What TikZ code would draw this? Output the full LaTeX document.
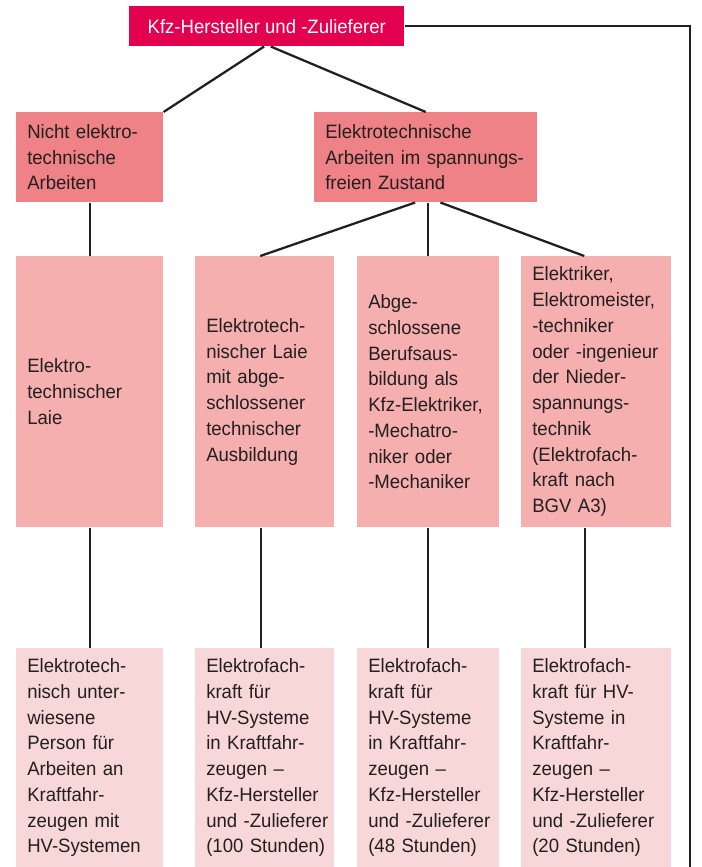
\documentclass[tikz,border=0pt]{standalone}
\usepackage{fontspec}
\setmainfont{Liberation Sans}[FakeStretch=0.96]
\definecolor{headred}{HTML}{E3004F}
\definecolor{worksalmon}{HTML}{EF8286}
\definecolor{prereqpink}{HTML}{F4AFAE}
\definecolor{gradepink}{HTML}{F8D7D8}
\definecolor{inkgray}{HTML}{231F20}
\begin{document}
\begin{tikzpicture}[
    x=0.75pt, y=-0.75pt,
    box/.style={rectangle, anchor=north west, inner xsep=0pt, inner ysep=0pt, align=left,
                text=inkgray, font=\fontsize{14.5pt}{19.3pt}\selectfont,
                execute at begin node={\leftskip=8.25pt\relax}},
    head/.style={rectangle, anchor=north west, fill=headred, text=white, inner sep=0pt,
                 font=\fontsize{14.5pt}{19.3pt}\selectfont, minimum width=206.25pt, minimum height=30pt},
    work/.style={box, fill=worksalmon, minimum height=67.5pt},
    prereq/.style={box, fill=prereqpink, minimum height=203.25pt},
    grade/.style={box, fill=gradepink, minimum height=164.25pt},
    link/.style={draw=inkgray, line width=1.7pt}
  ]
    \useasboundingbox (0,0) rectangle (701,867);

    % Top
    \node[head] at (129,6) (top) {Kfz-Hersteller und -Zulieferer};

    % Kind of work
    \node[work, text width=110.25pt] at (16,112)  (l2a) {Nicht elektro-\\technische\\Arbeiten};
    \node[work, text width=167.25pt] at (314,112) (l2b) {Elektrotechnische\\Arbeiten im spannungs-\\freien Zustand};

    % Previous training
    \node[prereq, text width=110.25pt] at (16,256)  (l3a) {Elektro-\\technischer\\Laie};
    \node[prereq, text width=104.25pt] at (195,256) (l3b) {Elektrotech-\\nischer Laie\\mit abge-\\schlossener\\technischer\\Ausbildung};
    \node[prereq, text width=106.5pt]  at (357,256) (l3c) {Abge-\\schlossene\\Berufsaus-\\bildung als\\Kfz-Elektriker,\\-Mechatro-\\niker oder\\-Mechaniker};
    \node[prereq, text width=112.5pt]  at (521,256) (l3d) {Elektriker,\\Elektromeister,\\-techniker\\oder -ingenieur\\der Nieder-\\spannungs-\\technik\\(Elektrofach-\\kraft nach\\BGV A3)};

    % Qualification
    \node[grade, text width=110.25pt] at (16,648)  (l4a) {Elektrotech-\\nisch unter-\\wiesene\\Person für\\Arbeiten an\\Kraftfahr-\\zeugen mit\\HV-Systemen};
    \node[grade, text width=104.25pt] at (195,648) (l4b) {Elektrofach-\\kraft für\\HV-Systeme\\in Kraftfahr-\\zeugen –\\Kfz-Hersteller\\und -Zulieferer\\(100 Stunden)};
    \node[grade, text width=106.5pt]  at (357,648) (l4c) {Elektrofach-\\kraft für\\HV-Systeme\\in Kraftfahr-\\zeugen –\\Kfz-Hersteller\\und -Zulieferer\\(48 Stunden)};
    \node[grade, text width=112.5pt]  at (521,648) (l4d) {Elektrofach-\\kraft für HV-\\Systeme in\\Kraftfahr-\\zeugen –\\Kfz-Hersteller\\und -Zulieferer\\(20 Stunden)};

    \coordinate (exit) at (690,867);

    % Connections
    \draw[link] ([xshift=-2pt]top.south) -- (l2a.north east);
    \draw[link] ([xshift=3pt]top.south) -- (l2b.north);
    \draw[link] (top.east) -| (exit);
    \draw[link] (l2a.south) -- (l3a.north);
    \draw[link] ([xshift=-8pt]l2b.south) -- ([xshift=-3.4pt]l3b.north);
    \draw[link] (l3c.north |- l2b.south) -- (l3c.north);
    \draw[link] ([xshift=11pt]l2b.south) -- ([xshift=-9pt]l3d.north);
    \draw[link] (l3a.south) -- (l4a.north);
    \draw[link] ([xshift=-2.6pt]l3b.south) -- ([xshift=-2.6pt]l4b.north);
    \draw[link] (l3c.south) -- (l4c.north);
    \draw[link] ([xshift=-8.25pt]l3d.south) -- ([xshift=-8.25pt]l4d.north);

  \end{tikzpicture}
\end{document}
